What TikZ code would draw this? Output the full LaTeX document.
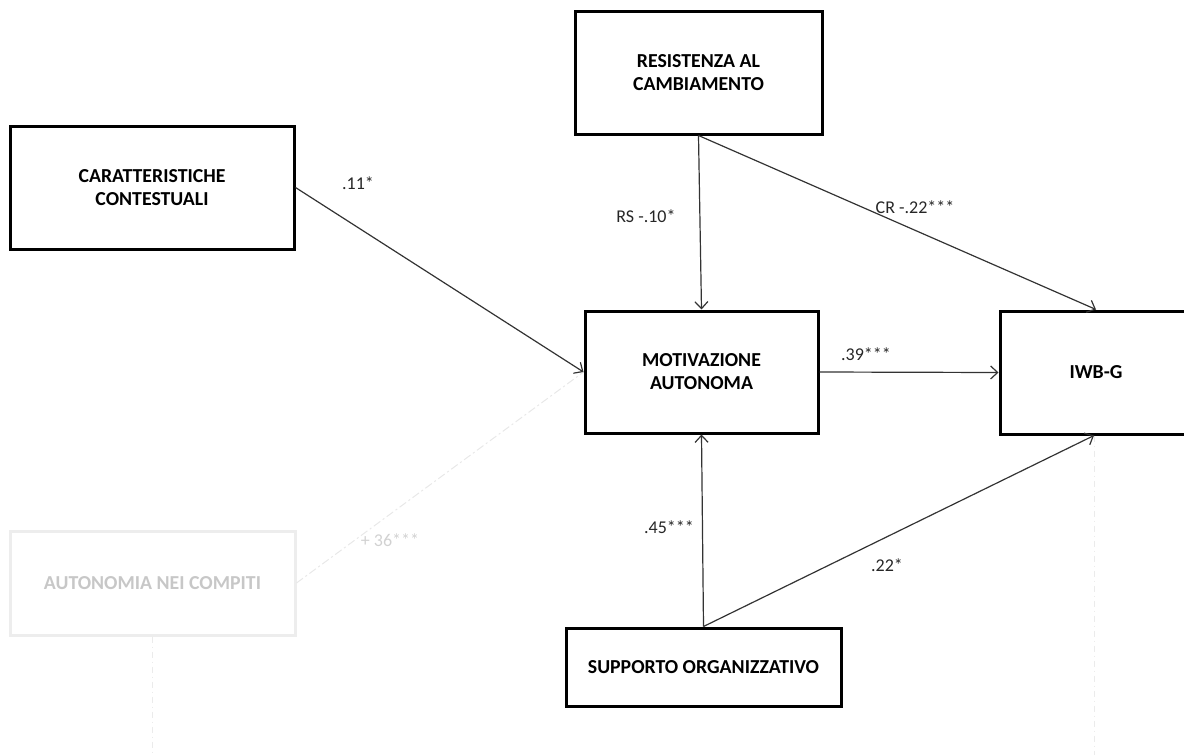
\documentclass[tikz,border=0pt]{standalone}
\usepackage{fontspec}
\setmainfont{Carlito}
\usetikzlibrary{arrows.meta}
\begin{document}
\begin{tikzpicture}[x=1pt,y=-1pt,
  box/.style={draw=black, line width=3pt, rectangle, align=center, inner sep=0pt,
    font=\fontsize{19.8}{23}\selectfont\bfseries},
  fadedbox/.style={box, draw=black!7, text=black!22},
  link/.style={draw=black!80, line width=1.2pt, -{Straight Barb[length=7pt,width=13pt,line width=1.2pt]}},
  fadedlink/.style={draw=black!9, line width=1pt, dash pattern=on 8pt off 3pt on 2pt off 3pt},
  guide/.style={draw=black!8, line width=1pt, dash pattern=on 6pt off 4pt on 1pt off 4pt},
  coef/.style={font=\fontsize{18}{21}\selectfont, text=black!85, inner sep=1pt},
  fadedcoef/.style={coef, text=black!18}]
\useasboundingbox (0,0) rectangle (1184,755);

% path model boxes
\node[box, minimum width=284pt, minimum height=123pt] (car) at (152,187.5) {CARATTERISTICHE\\CONTESTUALI};
\node[box, minimum width=247pt, minimum height=123pt] (res) at (698.5,72.5) {RESISTENZA AL\\CAMBIAMENTO};
\node[box, minimum width=233pt, minimum height=122pt] (mot) at (701.5,372) {MOTIVAZIONE\\AUTONOMA};
\node[box, minimum width=192pt, minimum height=123pt] (iwb) at (1096,372.5) {IWB-G};
\node[box, minimum width=275pt, minimum height=78pt] (sup) at (703.5,667) {SUPPORTO ORGANIZZATIVO};
\node[fadedbox, minimum width=285pt, minimum height=104pt] (aut) at (152.5,583) {AUTONOMIA NEI COMPITI};

% free ends of the guide lines
\coordinate (autend) at (152.5,755);
\coordinate (iwbend) at (1094,755);

% faded paths
\draw[fadedlink] (aut.east) -- (mot.west);
\draw[guide] (aut.south) -- (autend);
\draw[guide] ([xshift=-2pt]iwb.south) -- (iwbend);

% structural paths
\draw[link] (car.east) -- (mot.west);
\draw[link] (res.south) -- (mot.north);
\draw[link] (res.south) -- (iwb.north);
\draw[link] (mot.east) -- (iwb.west);
\draw[link] (sup.north) -- (mot.south);
\draw[link] (sup.north) -- ([xshift=-2pt]iwb.south);

% coefficients
\node[coef] (c1) at (358,183) {.11*};
\node[coef] (c2) at (646,216) {RS -.10*};
\node[coef] (c3) at (915,207) {CR -.22***};
\node[coef] (c4) at (866,354) {.39***};
\node[coef] (c5) at (669,527) {.45***};
\node[coef] (c6) at (887,565) {.22*};
\node[fadedcoef] (c7) at (390,540) {+ 36***};
\end{tikzpicture}
\end{document}
